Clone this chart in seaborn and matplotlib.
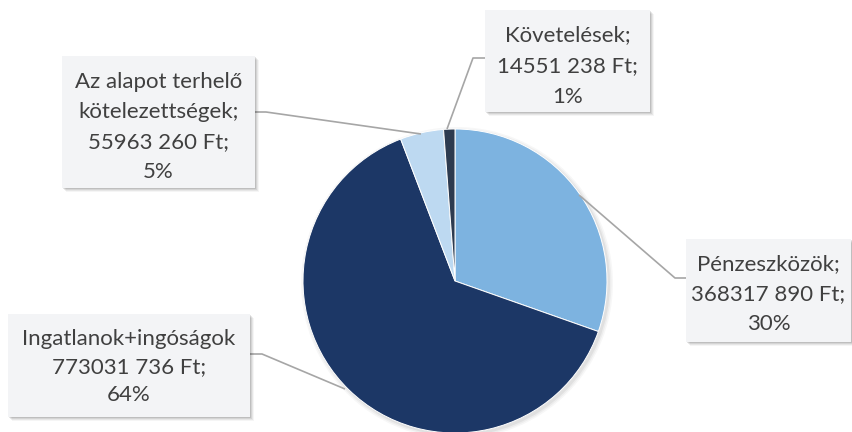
import matplotlib
matplotlib.use("Agg")
import matplotlib.pyplot as plt
import seaborn as sns
from matplotlib.patches import Rectangle, Circle

# ---- data ----
categories = ["Pénzeszközök", "Ingatlanok+ingóságok",
              "Az alapot terhelő\nkötelezettségek", "Követelések"]
name_suffix = [";", "", ";", ";"]
values = [368317890, 773031736, 55963260, 14551238]
colors = ["#7DB3E0", "#1C3766", "#BDD9F1", "#2D3B50"]

# ---- layout (pixel coords, origin top-left) ----
W, H = 853, 432
pie_center = (455, 281)
pie_radius = 152
# box: x0, y_top, x1, y_bottom ; first line centre y ; line step
boxes = [
    (686, 239, 851, 342, 262, 30),
    (8, 314, 250, 417, 337, 28),
    (62, 56, 255, 188, 80, 30),
    (485, 10, 650, 112, 33, 31),
]
leaders = [
    [(579, 195), (675, 278), (686, 278)],
    [(345, 389), (262, 354), (250, 354)],
    [(421, 134), (266, 112), (255, 112)],
    [(447, 129), (473, 58), (485, 58)],
]

sns.set_theme(style="white")
plt.rcParams['font.family'] = ['Lato', 'DejaVu Sans']

fig = plt.figure(figsize=(W / 100, H / 100), dpi=100)
ax = fig.add_axes([0, 0, 1, 1])

def Y(y):
    return H - y

cx, cy = pie_center[0], Y(pie_center[1])

# soft pie shadow
for i, a in enumerate([0.05, 0.04, 0.03]):
    ax.add_patch(Circle((cx + 2, cy - 2), pie_radius + 1 + i * 1.5,
                        facecolor="black", edgecolor="none", alpha=a, zorder=1))

wedges, _ = ax.pie(values, colors=colors, startangle=90, counterclock=False,
                   center=(cx, cy), radius=pie_radius,
                   wedgeprops=dict(edgecolor="white", linewidth=0.7))
for w in wedges:
    w.set_zorder(2)

ax.set_xlim(0, W)
ax.set_ylim(0, H)
ax.set_aspect("equal")
ax.axis("off")

total = sum(values)

def fmt(v):
    return f"{v // 1000} {v % 1000:03d} Ft;"

for (name, suf, v, box, lead) in zip(categories, name_suffix, values, boxes, leaders):
    x0, yt, x1, yb, ly, step = box
    # leader line
    xs = [p[0] for p in lead]
    ys = [Y(p[1]) for p in lead]
    ax.plot(xs, ys, color="#A6A6A6", lw=1.2, zorder=3, solid_capstyle="butt")
    # shadow
    for k, a in enumerate([0.10, 0.08, 0.06, 0.04]):
        off = 1 + k
        ax.add_patch(Rectangle((x0 + off, Y(yb) - off), x1 - x0, yb - yt,
                               facecolor="black", edgecolor="none",
                               alpha=a, zorder=4))
    ax.add_patch(Rectangle((x0, Y(yb)), x1 - x0, yb - yt,
                           facecolor="#F3F4F6", edgecolor="none", zorder=5))
    lines = (name + suf).split("\n") + [fmt(v), f"{round(100 * v / total)}%"]
    xc = (x0 + x1) / 2
    for j, t in enumerate(lines):
        ax.text(xc, Y(ly + j * step), t, ha="center", va="center_baseline",
                fontsize=16, color="#404040", zorder=6)

fig.savefig("out.png", dpi=100)
